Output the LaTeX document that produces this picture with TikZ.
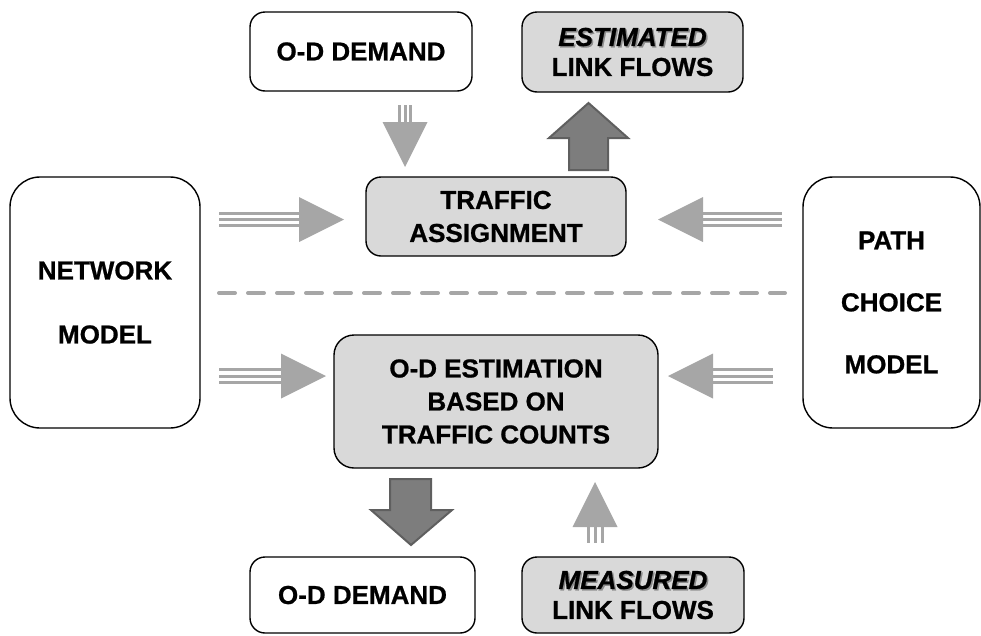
\documentclass[tikz,border=0pt]{standalone}
\usepackage{fontspec}
\setmainfont{Liberation Sans}[BoldFeatures={FakeBold=0.8},BoldItalicFeatures={FakeBold=0.8}]
\definecolor{boxgray}{RGB}{217,217,217}
\definecolor{lightgr}{RGB}{166,166,166}
\definecolor{darkfill}{RGB}{125,125,125}
\definecolor{darkedge}{RGB}{95,95,95}
\newcommand\shtext[1]{\makebox[0pt][l]{\hspace{1.5pt}\raisebox{-1.5pt}{\textcolor{black!45}{#1}}}#1}
\tikzset{
  box/.style={draw=black, line width=1.4pt, rounded corners=15pt, align=center,
    font=\bfseries\fontsize{26}{33}\selectfont, inner sep=0pt},
  graybox/.style={box, fill=boxgray},
  sidebox/.style={box, rounded corners=30pt},
  darkarr/.style={fill=darkfill, draw=darkedge, line width=2pt, line join=miter},
  sepline/.style={lightgr, line width=4pt, line cap=round, dash pattern=on 16pt off 13pt},
  pics/lightarr/.style 2 args={code={
    \fill[lightgr] (0,0) -- (-45,-22.5) -- (-45,22.5) -- cycle;
    \foreach \d in {-#2,0,#2} \draw[lightgr, line width=3pt] (-44,\d) -- (-45-#1,\d);
  }}
}
\begin{document}
\begin{tikzpicture}[x=1pt, y=-1pt]
\useasboundingbox (0,0) rectangle (981,635);
% boxes
\node[box, minimum width=222pt, minimum height=79pt] (odtop) at (361,51.5) {O-D DEMAND};
\node[graybox, minimum width=221pt, minimum height=80pt, font=\bfseries\fontsize{26}{30}\selectfont] (est) at (632.5,52)
  {{\itshape\shtext{ESTIMATED}}\\LINK FLOWS};
\node[graybox, minimum width=260pt, minimum height=79pt] (ta) at (496,216.5) {TRAFFIC\\ASSIGNMENT};
\node[sidebox, minimum width=190pt, minimum height=251pt] (net) at (105,302.5) {NETWORK\\[31pt]MODEL};
\node[sidebox, minimum width=177pt, minimum height=251pt] (path) at (891.5,302.5) {PATH\\[29pt]CHOICE\\[29pt]MODEL};
\node[graybox, rounded corners=20pt, minimum width=324pt, minimum height=133pt] (odest) at (496,401.5)
  {O-D ESTIMATION\\BASED ON\\TRAFFIC COUNTS};
\node[box, minimum width=225pt, minimum height=76pt] (odbot) at (362.5,595) {O-D DEMAND};
\node[graybox, minimum width=222pt, minimum height=76pt, font=\bfseries\fontsize{26}{30}\selectfont] (meas) at (633,595)
  {{\itshape\shtext{MEASURED}}\\LINK FLOWS};
% separator
\coordinate (dl) at (219,293);
\coordinate (dr) at (785,293);
\draw[sepline] (dl) -- (dr);
% light arrows
\pic[rotate=-90] at (405,167) {lightarr={17}{5.5}};
\pic at (344,219.5) {lightarr={80}{6.3}};
\pic[rotate=180] at (658,219.5) {lightarr={79}{6.3}};
\pic at (326,376) {lightarr={62}{6.3}};
\pic[rotate=180] at (668,376) {lightarr={60}{6.3}};
\pic[rotate=90] at (595,482) {lightarr={16}{7}};
% dark arrows
\draw[darkarr] (569,170) -- (569,138) -- (549,138) -- (588.5,103) -- (628,138) -- (608,138) -- (608,170) -- cycle;
\draw[darkarr] (390,479) -- (431,479) -- (431,510) -- (452,510) -- (411,545) -- (371,510) -- (390,510) -- cycle;
\end{tikzpicture}
\end{document}
